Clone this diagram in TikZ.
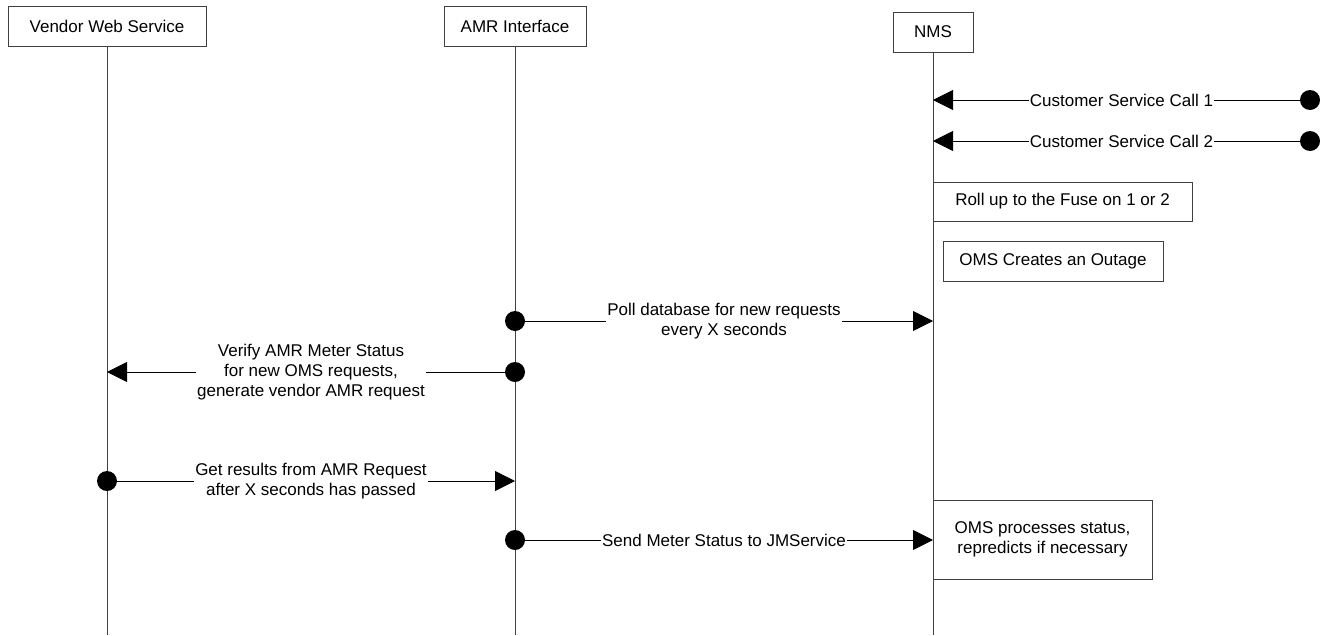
\documentclass[tikz,border=0pt]{standalone}
\usepackage{fontspec}
\setmainfont{Liberation Sans}
\usetikzlibrary{arrows.meta}
\begin{document}
\begin{tikzpicture}[x=1pt,y=-1pt,
  every node/.style={font=\fontsize{17}{20}\selectfont},
  actor/.style={draw=black!75,line width=0.8pt,fill=white,minimum height=40pt,inner sep=0pt},
  note/.style={draw=black!75,line width=0.8pt,fill=white,inner sep=0pt,align=center},
  life/.style={draw=black!75,line width=0.8pt},
  msg/.style={draw=black,line width=0.8pt,-{Triangle[length=20pt,width=20pt]}},
  lbl/.style={fill=white,inner sep=1pt,align=center},
  dot/.style={circle,fill=black,minimum size=20pt,inner sep=0pt}]
\useasboundingbox (0,0) rectangle (1323,635);
% actors
\node[actor,minimum width=198pt] (vendor) at (107,26) {Vendor Web Service};
\node[actor,minimum width=142pt] (amr) at (515,26) {AMR Interface};
\node[actor,minimum width=80pt] (nms) at (933,32) {NMS};
% lifeline ends
\coordinate (vendorEnd) at (107,635);
\coordinate (amrEnd) at (515,635);
\coordinate (nmsEnd) at (933,635);
\draw[life] (vendor.south) -- (vendorEnd);
\draw[life] (amr.south) -- (amrEnd);
\draw[life] (nms.south) -- (nmsEnd);
% notes
\node[note,minimum width=259pt,minimum height=39pt] (roll) at (1062.5,201.5) {Roll up to the Fuse on 1 or 2};
\node[note,minimum width=220pt,minimum height=40pt] (outage) at (1053,261) {OMS Creates an Outage};
\node[note,minimum width=219pt,minimum height=79pt] (process) at (1042.5,539.5) {OMS processes status,\\repredicts if necessary};
% message anchors
\coordinate (n1) at (933,100);
\coordinate (n2) at (933,141);
\coordinate (n3) at (933,321);
\coordinate (v4) at (107,372);
\coordinate (a5) at (515,481);
\coordinate (n6) at (933,540);
% dots
\node[dot] (d1) at (1310,100) {};
\node[dot] (d2) at (1310,141) {};
\node[dot] (d3) at (515,321) {};
\node[dot] (d4) at (515,372) {};
\node[dot] (d5) at (107,481) {};
\node[dot] (d6) at (515,540) {};
% messages
\draw[msg] (d1.center) -- node[lbl] {Customer Service Call 1} (n1);
\draw[msg] (d2.center) -- node[lbl] {Customer Service Call 2} (n2);
\draw[msg] (d3.center) -- node[lbl] {Poll database for new requests\\every X seconds} (n3);
\draw[msg] (d4.center) -- node[lbl] {Verify AMR Meter Status\\for new OMS requests,\\generate vendor AMR request} (v4);
\draw[msg] (d5.center) -- node[lbl] {Get results from AMR Request\\after X seconds has passed} (a5);
\draw[msg] (d6.center) -- node[lbl] {Send Meter Status to JMService} (n6);
\end{tikzpicture}
\end{document}
